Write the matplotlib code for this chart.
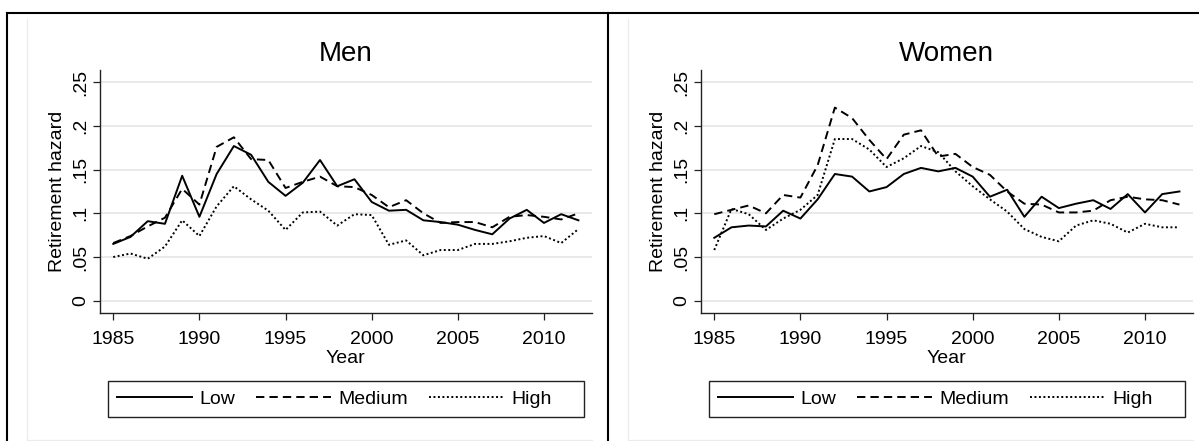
import matplotlib
matplotlib.use('Agg')
import matplotlib.pyplot as plt
from matplotlib.lines import Line2D
from matplotlib.patches import Rectangle

# ---------------- data ----------------
years = list(range(1985, 2013))

men_low = [0.065, 0.073, 0.091, 0.088, 0.143, 0.096, 0.145, 0.177, 0.167, 0.136,
           0.120, 0.135, 0.161, 0.131, 0.139, 0.113, 0.103, 0.104, 0.092, 0.090,
           0.087, 0.081, 0.076, 0.094, 0.104, 0.089, 0.099, 0.092]
men_medium = [0.066, 0.074, 0.085, 0.095, 0.128, 0.110, 0.176, 0.187, 0.162, 0.161,
              0.129, 0.136, 0.142, 0.131, 0.130, 0.121, 0.107, 0.115, 0.100, 0.089,
              0.090, 0.090, 0.084, 0.096, 0.098, 0.096, 0.093, 0.100]
men_high = [0.050, 0.054, 0.048, 0.062, 0.092, 0.074, 0.108, 0.131, 0.116, 0.103,
            0.081, 0.101, 0.102, 0.086, 0.099, 0.098, 0.064, 0.069, 0.052, 0.058,
            0.058, 0.065, 0.065, 0.068, 0.072, 0.074, 0.066, 0.082]

women_low = [0.072, 0.084, 0.086, 0.085, 0.103, 0.094, 0.116, 0.145, 0.142, 0.125,
             0.130, 0.145, 0.152, 0.148, 0.152, 0.142, 0.119, 0.127, 0.096, 0.119,
             0.106, 0.111, 0.115, 0.105, 0.122, 0.101, 0.122, 0.125]
women_medium = [0.099, 0.104, 0.109, 0.100, 0.121, 0.118, 0.155, 0.221, 0.209, 0.184,
                0.162, 0.190, 0.195, 0.165, 0.168, 0.153, 0.144, 0.125, 0.111, 0.110,
                0.101, 0.101, 0.103, 0.115, 0.119, 0.116, 0.115, 0.110]
women_high = [0.058, 0.105, 0.099, 0.081, 0.094, 0.104, 0.121, 0.185, 0.185, 0.173,
              0.153, 0.163, 0.177, 0.170, 0.148, 0.131, 0.116, 0.102, 0.082, 0.073,
              0.068, 0.086, 0.092, 0.088, 0.078, 0.088, 0.084, 0.084]

panel_titles = ['Men', 'Women']
series_labels = ['Low', 'Medium', 'High']
x_ticks = [1985, 1990, 1995, 2000, 2005, 2010]
y_ticks = [0, 0.05, 0.10, 0.15, 0.20, 0.25]
y_tick_labels = ['0', '.05', '.1', '.15', '.2', '.25']
x_title = 'Year'
y_title = 'Retirement hazard'

# ---------------- layout ----------------
W, H = 1199, 441
def fx(x):
    return x / W
def fy(y):
    return 1 - y / H

plt.rcParams['font.family'] = ['Liberation Sans', 'DejaVu Sans']

fig = plt.figure(figsize=(W / 100, H / 100), dpi=100)
fig.patch.set_facecolor('white')

styles = ['-', (0, (4.3, 2.6)), (0, (1.0, 1.3))]
panel_data = [(men_low, men_medium, men_high), (women_low, women_medium, women_high)]
offsets = [0, 601]
axis_col = '#222222'

for title, data, off in zip(panel_titles, panel_data, offsets):
    ax = fig.add_axes([fx(100 + off), fy(313.3), 491.7 / W, 243.3 / H])
    ax.set_facecolor('white')
    for vals, ls, lab in zip(data, styles, series_labels):
        ax.plot(years, vals, color='black', lw=1.4, linestyle=ls, label=lab)
    ax.set_xlim(1984.23, 2012.77)
    ax.set_ylim(-0.0144, 0.264)
    ax.set_xticks(x_ticks)
    ax.set_yticks(y_ticks, labels=y_tick_labels)
    ax.grid(axis='y', color='#e3e3e3', lw=1.1)
    ax.set_axisbelow(True)
    for s in ('top', 'right'):
        ax.spines[s].set_visible(False)
    for s in ('left', 'bottom'):
        ax.spines[s].set_color(axis_col)
        ax.spines[s].set_linewidth(1.0)
    ax.tick_params(direction='out', length=5, width=0.9, color=axis_col,
                   labelsize=14, labelcolor='black')
    ax.tick_params(axis='x', pad=7.5)
    ax.tick_params(axis='y', pad=3, labelrotation=90)
    for lab in ax.get_yticklabels():
        lab.set_va('center')
        lab.set_ha('right')

    ax.set_title(title, fontsize=20, y=(313.3 - 61) / 243.3, va='baseline', pad=0)
    ax.set_xlabel(x_title, fontsize=14)
    ax.xaxis.set_label_coords(fx(345.9 + off), fy(350.0), transform=fig.transFigure)
    ax.set_ylabel(y_title, fontsize=14)
    ax.yaxis.set_label_coords(fx(66 + off), fy(191.7), transform=fig.transFigure)

    ax.legend(loc='center left', bbox_to_anchor=(fx(116.7 + off), fy(399)),
              bbox_transform=fig.transFigure, ncol=3, frameon=False, fontsize=14,
              handlelength=3.85, handletextpad=0.4, columnspacing=1.06,
              borderpad=0, borderaxespad=0)
    fig.add_artist(Rectangle((fx(107.7 + off), fy(417.3)), (584 - 107.7) / W, 36.6 / H,
                             transform=fig.transFigure, fill=False, ec=axis_col, lw=1.0))

    # light gray graph-region edges
    fig.add_artist(Line2D([fx(27 + off), fx(27 + off)], [fy(19), fy(440)],
                          transform=fig.transFigure, color='#ebebeb', lw=0.9))
    fig.add_artist(Line2D([fx(27 + off), fx(592 + off)], [fy(440), fy(440)],
                          transform=fig.transFigure, color='#ebebeb', lw=0.9))

# black table frame
frame_lw = 1.5
fig.add_artist(Line2D([fx(6.5), 1], [fy(12.7), fy(12.7)], transform=fig.transFigure,
                      color='black', lw=frame_lw))
fig.add_artist(Line2D([fx(7.3), fx(7.3)], [fy(12.7), 0], transform=fig.transFigure,
                      color='black', lw=frame_lw))
fig.add_artist(Line2D([fx(608.3), fx(608.3)], [fy(12.7), 0], transform=fig.transFigure,
                      color='black', lw=frame_lw))

fig.savefig('out.png', dpi=100)
